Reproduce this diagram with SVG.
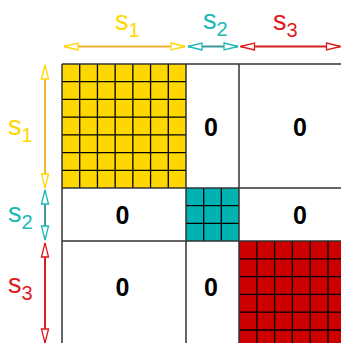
<svg xmlns="http://www.w3.org/2000/svg" width="341" height="343" viewBox="0 0 341 343">
<style>
.lbl{font-family:"Liberation Sans",Arial,sans-serif;font-size:27px}
.sub{font-size:20px}
.zero{font-family:"Liberation Sans",Arial,sans-serif;font-size:25px;font-weight:bold;fill:#000;text-anchor:middle}
.cell{fill:none;stroke:#000;stroke-width:1.3}
.main{fill:none;stroke:#333;stroke-width:1.5}
</style>
<defs>
<marker id="hy" markerUnits="userSpaceOnUse" markerWidth="20" markerHeight="12" refX="15" refY="4.5" orient="auto-start-reverse" overflow="visible"><path d="M1,1 L15,4.5 L1,8 Z" fill="#fff" stroke="#FFD700" stroke-width="1.3"/></marker>
<marker id="ht" markerUnits="userSpaceOnUse" markerWidth="20" markerHeight="12" refX="15" refY="4.5" orient="auto-start-reverse" overflow="visible"><path d="M1,1 L15,4.5 L1,8 Z" fill="#fff" stroke="#1BB8B8" stroke-width="1.3"/></marker>
<marker id="hr" markerUnits="userSpaceOnUse" markerWidth="20" markerHeight="12" refX="15" refY="4.5" orient="auto-start-reverse" overflow="visible"><path d="M1,1 L15,4.5 L1,8 Z" fill="#fff" stroke="#DD1C1C" stroke-width="1.3"/></marker>
</defs>
<rect width="341" height="343" fill="#fff"/>
<g id="block1">
<rect x="62" y="64" width="124" height="124" fill="#FFD700"/>
<path class="cell" d="M79.71,64V188M97.43,64V188M115.14,64V188M132.86,64V188M150.57,64V188M168.29,64V188M62,81.71H186M62,99.43H186M62,117.14H186M62,134.86H186M62,152.57H186M62,170.29H186"/>
</g>
<g id="block2">
<rect x="186" y="188" width="53" height="53" fill="#00B2B2"/>
<path class="cell" d="M203.67,188V241M221.33,188V241M186,205.67H239M186,223.33H239"/>
</g>
<g id="block3">
<rect x="239" y="241" width="102" height="102" fill="#CC0000"/>
<path class="cell" d="M256.8,241V343M274.6,241V343M292.4,241V343M310.2,241V343M328,241V343M239,258.8H341M239,276.6H341M239,294.4H341M239,312.2H341M239,330H341"/>
</g>
<g id="grid">
<path class="main" d="M62,64V343M186,64V343M239,64V343M62,64H341M62,188H341M62,241H341"/>
</g>
<g id="zeros">
<text class="zero" x="211" y="136">0</text>
<text class="zero" x="300" y="136">0</text>
<text class="zero" x="122.5" y="224">0</text>
<text class="zero" x="300" y="224">0</text>
<text class="zero" x="122.5" y="296">0</text>
<text class="zero" x="211" y="296">0</text>
</g>
<g id="connectors">
<line x1="64" y1="46.5" x2="185" y2="46.5" stroke="#F2B233" stroke-width="2" marker-start="url(#hy)" marker-end="url(#hy)"/>
<line x1="188" y1="46.5" x2="238" y2="46.5" stroke="#3E9A9A" stroke-width="2" marker-start="url(#ht)" marker-end="url(#ht)"/>
<line x1="240.5" y1="46.5" x2="340.5" y2="46.5" stroke="#D42020" stroke-width="2" marker-start="url(#hr)" marker-end="url(#hr)"/>
<line x1="45" y1="65" x2="45" y2="188" stroke="#F2B233" stroke-width="2" marker-start="url(#hy)" marker-end="url(#hy)"/>
<line x1="45" y1="190" x2="45" y2="240" stroke="#3E9A9A" stroke-width="2" marker-start="url(#ht)" marker-end="url(#ht)"/>
<line x1="45" y1="243" x2="45" y2="343" stroke="#D42020" stroke-width="2" marker-start="url(#hr)" marker-end="url(#hr)"/>
</g>
<g id="labels">
<text class="lbl" x="115" y="30" fill="#FFD700">s<tspan class="sub" dy="7">1</tspan></text>
<text class="lbl" x="203" y="29" fill="#1BB8B8">s<tspan class="sub" dy="7">2</tspan></text>
<text class="lbl" x="273" y="30" fill="#DD1C1C">s<tspan class="sub" dy="7">3</tspan></text>
<text class="lbl" x="8" y="135" fill="#FFD700">s<tspan class="sub" dy="7">1</tspan></text>
<text class="lbl" x="8" y="222" fill="#1BB8B8">s<tspan class="sub" dy="7">2</tspan></text>
<text class="lbl" x="8" y="293" fill="#DD1C1C">s<tspan class="sub" dy="7">3</tspan></text>
</g>
</svg>
